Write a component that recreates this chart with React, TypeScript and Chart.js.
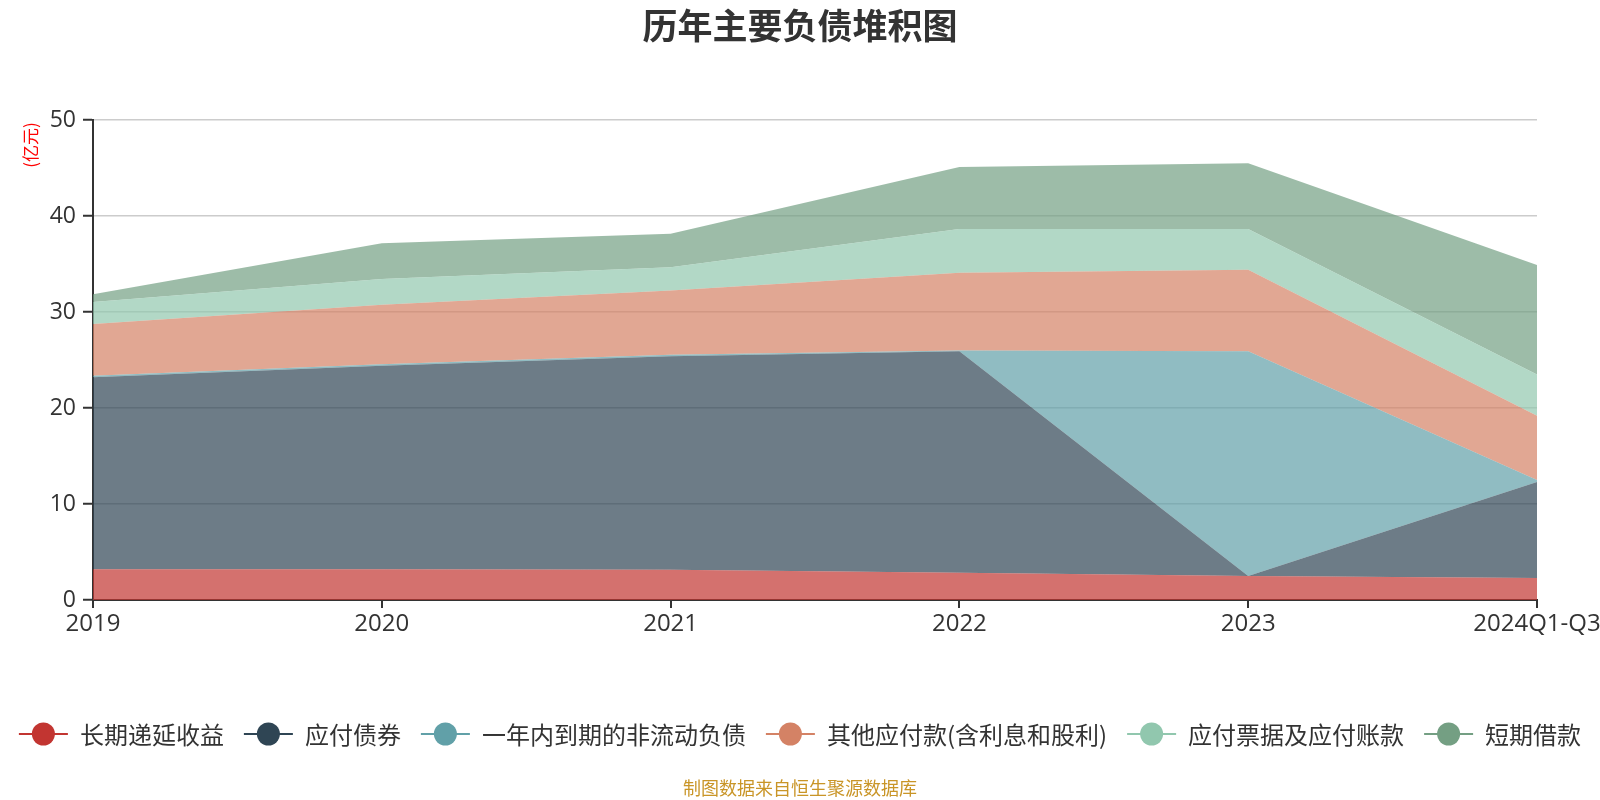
import React, { useEffect, useRef } from "react";
import { Chart, registerables } from "chart.js";

Chart.register(...registerables);

const categories = ["2019", "2020", "2021", "2022", "2023", "2024Q1-Q3"];
const seriesNames = [
  "长期递延收益",
  "应付债券",
  "一年内到期的非流动负债",
  "其他应付款(含利息和股利)",
  "应付票据及应付账款",
  "短期借款",
];
const deferredIncome = [3.2, 3.2, 3.15, 2.85, 2.5, 2.3];
const bondsPayable = [20.0, 21.2, 22.25, 23.05, 0.0, 10.0];
const currentNonCurrent = [0.15, 0.15, 0.15, 0.1, 23.4, 0.2];
const otherPayables = [5.4, 6.2, 6.7, 8.1, 8.5, 6.7];
const notesAccountsPayable = [2.3, 2.7, 2.4, 4.55, 4.25, 4.3];
const shortTermLoans = [0.8, 3.7, 3.5, 6.45, 6.85, 11.4];
const yTicks = [0, 10, 20, 30, 40, 50];

const colors = ["#c23531", "#2f4554", "#61a0a8", "#d48265", "#91c7ae", "#749f83"];
const fills = [
  "rgba(194,53,49,0.7)",
  "rgba(47,69,84,0.7)",
  "rgba(97,160,168,0.7)",
  "rgba(212,130,101,0.7)",
  "rgba(145,199,174,0.7)",
  "rgba(116,159,131,0.7)",
];

const LATIN = '"Open Sans", "Noto Sans CJK SC", sans-serif';
const CJK = '"Noto Sans CJK SC", "Open Sans", sans-serif';

const decorPlugin = {
  id: "decor",
  afterDraw(chart: any) {
    const ctx = chart.ctx as CanvasRenderingContext2D;
    ctx.save();
    // title
    ctx.fillStyle = "#333";
    ctx.font = `bold 35px ${CJK}`;
    ctx.textAlign = "center";
    ctx.textBaseline = "middle";
    ctx.fillText("历年主要负债堆积图", 800, 26);

    // y unit
    ctx.save();
    ctx.translate(31, 145);
    ctx.rotate(-Math.PI / 2);
    ctx.fillStyle = "#ff0000";
    ctx.font = `17px ${CJK}`;
    ctx.textAlign = "center";
    ctx.textBaseline = "middle";
    ctx.fillText("(亿元)", 0, 0);
    ctx.restore();

    // legend
    ctx.font = `24px ${CJK}`;
    const lineW = 49;
    const gapText = 12;
    const gapItem = 20;
    const widths = seriesNames.map((n) => ctx.measureText(n).width);
    let total = 0;
    widths.forEach((w, i) => {
      total += lineW + gapText + w + (i < widths.length - 1 ? gapItem : 0);
    });
    let x = 800 - total / 2;
    const y = 734;
    seriesNames.forEach((n, i) => {
      ctx.strokeStyle = colors[i];
      ctx.lineWidth = 2;
      ctx.beginPath();
      ctx.moveTo(x, y);
      ctx.lineTo(x + lineW, y);
      ctx.stroke();
      ctx.fillStyle = colors[i];
      ctx.beginPath();
      ctx.arc(x + lineW / 2, y, 11.5, 0, Math.PI * 2);
      ctx.fill();
      ctx.fillStyle = "#333";
      ctx.textAlign = "left";
      ctx.textBaseline = "middle";
      ctx.fillText(n, x + lineW + gapText, y + 1);
      x += lineW + gapText + widths[i] + gapItem;
    });

    // footer
    ctx.fillStyle = "#c99527";
    ctx.font = `18px ${CJK}`;
    ctx.textAlign = "center";
    ctx.textBaseline = "middle";
    ctx.fillText("制图数据来自恒生聚源数据库", 800, 788);
    ctx.restore();
  },
};

export default function App() {
  const ref = useRef<HTMLCanvasElement>(null);
  useEffect(() => {
    document.body.style.margin = "0";
    const seriesData = [
      deferredIncome,
      bondsPayable,
      currentNonCurrent,
      otherPayables,
      notesAccountsPayable,
      shortTermLoans,
    ];
    const chart = new Chart(ref.current as HTMLCanvasElement, {
      type: "line",
      data: {
        labels: categories,
        datasets: seriesData.map((d, i) => ({
          label: seriesNames[i],
          data: d,
          borderColor: colors[i],
          backgroundColor: fills[i],
          borderWidth: 0,
          pointRadius: 0,
          pointHoverRadius: 0,
          tension: 0,
          fill: i === 0 ? "origin" : "-1",
        })),
      },
      options: {
        animation: false,
        responsive: false,
        events: [],
        layout: { padding: { top: 120, right: 63, bottom: 0, left: 0 } },
        plugins: {
          legend: { display: false },
          title: { display: false },
          tooltip: { enabled: false },
        },
        scales: {
          x: {
            offset: false,
            afterFit: (s: any) => {
              s.height = 200;
              s.paddingLeft = 0;
              s.paddingRight = 0;
            },
            grid: {
              drawOnChartArea: false,
              drawTicks: true,
              tickLength: 8,
              tickColor: "#333",
              lineWidth: 2,
            },
            border: { display: true, color: "#333", width: 2 },
            ticks: {
              color: "#333",
              font: { family: LATIN, size: 24 },
              padding: 2,
              maxRotation: 0,
              autoSkip: false,
            },
          },
          y: {
            stacked: true,
            min: 0,
            max: 50,
            afterFit: (s: any) => {
              s.width = 93;
              s.paddingTop = 0;
              s.paddingBottom = 0;
            },
            afterBuildTicks: (s: any) => {
              s.ticks = yTicks.map((v) => ({ value: v }));
            },
            grid: {
              color: "#cccccc",
              lineWidth: 1.5,
              drawTicks: true,
              tickLength: 10,
              tickColor: "#333",
              tickWidth: 2,
            },
            border: { display: true, color: "#333", width: 2 },
            ticks: {
              color: "#333",
              font: { family: LATIN, size: 23 },
              padding: 7,
            },
          },
        },
      },
      plugins: [decorPlugin],
    });
    return () => chart.destroy();
  }, []);
  return <canvas ref={ref} width={1600} height={800} style={{ display: "block" }} />;
}
